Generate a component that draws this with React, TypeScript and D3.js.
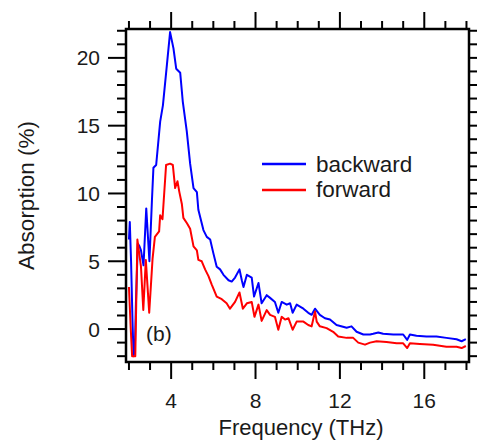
import React from "react";
import * as d3 from "d3";

const backwardFreq = [2.0, 2.04, 2.1, 2.17, 2.22, 2.28, 2.33, 2.42, 2.5, 2.57, 2.69, 2.82, 2.97, 3.09, 3.16, 3.29, 3.48, 3.61, 3.8, 3.95, 4.11, 4.24, 4.43, 4.55, 4.74, 4.9, 5.06, 5.22, 5.29, 5.53, 5.69, 5.85, 6.0, 6.16, 6.32, 6.48, 6.72, 6.87, 7.03, 7.24, 7.35, 7.43, 7.59, 7.82, 7.93, 8.14, 8.29, 8.53, 8.69, 8.92, 9.08, 9.24, 9.48, 9.64, 9.76, 9.95, 10.27, 10.5, 10.66, 10.82, 11.05, 11.29, 11.53, 11.84, 12.32, 12.55, 12.79, 13.11, 13.43, 13.58, 13.82, 14.05, 14.53, 15.0, 15.19, 15.32, 15.63, 16.1, 16.58, 17.05, 17.53, 17.77, 17.97];
const backwardAbs = [6.6, 7.9, 5.0, 0.5, -2.0, -1.5, 1.9, 6.3, 6.1, 5.8, 4.7, 8.9, 5.0, 9.5, 11.9, 12.1, 15.3, 16.5, 19.5, 21.9, 20.7, 19.2, 18.9, 16.8, 14.6, 12.2, 10.4, 10.1, 8.8, 7.3, 6.8, 6.6, 5.6, 4.6, 4.4, 4.0, 3.6, 3.5, 3.8, 4.4, 3.6, 3.1, 4.0, 3.8, 2.4, 3.4, 1.9, 2.5, 2.3, 2.0, 1.2, 2.0, 1.8, 1.9, 1.2, 1.8, 1.5, 1.2, 1.05, 1.5, 1.05, 0.8, 0.7, 0.3, 0.1, 0.2, -0.2, -0.4, -0.4, -0.35, -0.25, -0.35, -0.4, -0.4, -0.8, -0.4, -0.5, -0.55, -0.55, -0.65, -0.75, -0.9, -0.75];

const forwardFreq = [2.0, 2.08, 2.15, 2.3, 2.4, 2.57, 2.68, 2.8, 2.96, 3.12, 3.23, 3.43, 3.48, 3.59, 3.76, 3.95, 4.08, 4.19, 4.3, 4.39, 4.51, 4.58, 4.75, 4.9, 5.06, 5.22, 5.29, 5.45, 5.61, 5.77, 5.92, 6.16, 6.4, 6.63, 6.79, 7.03, 7.24, 7.4, 7.59, 7.82, 7.95, 8.14, 8.29, 8.53, 8.69, 8.92, 9.08, 9.24, 9.4, 9.56, 9.76, 9.95, 10.27, 10.5, 10.66, 10.82, 10.9, 11.05, 11.37, 11.68, 11.92, 12.32, 12.63, 12.87, 13.19, 13.43, 13.74, 14.21, 14.69, 15.0, 15.19, 15.32, 15.79, 16.42, 17.05, 17.53, 17.77, 17.97];
const forwardAbs = [3.1, 0.2, -2.0, -2.0, 6.6, 4.6, 1.4, 5.1, 1.2, 5.2, 6.8, 7.2, 8.4, 8.1, 12.1, 12.2, 12.1, 10.4, 10.9, 10.1, 9.2, 8.2, 7.8, 7.4, 6.1, 5.8, 5.1, 5.0, 4.4, 3.9, 3.3, 2.4, 2.2, 1.9, 1.5, 2.0, 2.7, 1.5, 1.9, 2.0, 0.9, 1.8, 0.6, 1.4, 1.05, 0.9, -0.05, 0.9, 0.7, 0.8, -0.05, 0.55, 0.55, 0.3, 0.2, 1.3, 0.55, 0.2, 0.07, -0.2, -0.55, -0.65, -0.65, -1.0, -1.15, -1.0, -0.9, -0.95, -1.05, -1.05, -1.4, -1.05, -1.1, -1.15, -1.3, -1.3, -1.4, -1.25];

const xMajorTicks = [4, 8, 12, 16];
const xMinorTicks = d3.range(2, 19, 1);
const yMajorTicks = [0, 5, 10, 15, 20];
const yMinorTicks = d3.range(-2, 23, 1);

const seriesNames = ["backward", "forward"];
const seriesColors = ["#0000ff", "#ff0000"];

const FONT = "'Liberation Sans', Arial, Helvetica, sans-serif";

export default function App() {
  const W = 477, H = 441;
  const left = 126, right = 469, top = 29, bottom = 362;
  const x = d3.scaleLinear().domain([1.86, 18.12]).range([left, right]);
  const y = d3.scaleLinear().domain([-2.43, 22.13]).range([bottom, top]);

  const line = d3.line<[number, number]>().x(d => x(d[0])).y(d => y(d[1]));
  const backPts = backwardFreq.map((f, i) => [f, backwardAbs[i]] as [number, number]);
  const fwdPts = forwardFreq.map((f, i) => [f, forwardAbs[i]] as [number, number]);

  const majorLen = 17, minorLen = 8;
  const tickStroke = 2;
  const txt = "#1a1a1a";

  return (
    <svg width={W} height={H} style={{ position: "absolute", left: 0, top: 0, background: "#fff" }} fontFamily={FONT}>
      <rect x={0} y={0} width={W} height={H} fill="#fff" />
      <defs>
        <clipPath id="plotclip">
          <rect x={left} y={top} width={right - left} height={bottom - top} />
        </clipPath>
      </defs>
      <g clipPath="url(#plotclip)">
        <path d={line(backPts) || ""} fill="none" stroke={seriesColors[0]} strokeWidth={2} strokeLinejoin="round" />
        <path d={line(fwdPts) || ""} fill="none" stroke={seriesColors[1]} strokeWidth={2} strokeLinejoin="round" />
      </g>

      {xMinorTicks.map(t => {
        const len = xMajorTicks.includes(t) ? majorLen : minorLen;
        return (
          <g key={"xt" + t} stroke="#000" strokeWidth={tickStroke}>
            <line x1={x(t)} x2={x(t)} y1={bottom} y2={bottom + len} />
            <line x1={x(t)} x2={x(t)} y1={top} y2={top - len} />
          </g>
        );
      })}
      {yMinorTicks.map(t => {
        const len = yMajorTicks.includes(t) ? majorLen + 1 : minorLen + 1;
        return (
          <g key={"yt" + t} stroke="#000" strokeWidth={tickStroke}>
            <line y1={y(t)} y2={y(t)} x1={left} x2={left - len} />
            <line y1={y(t)} y2={y(t)} x1={right} x2={right + len} />
          </g>
        );
      })}

      <rect x={left} y={top} width={right - left} height={bottom - top} fill="none" stroke="#000" strokeWidth={2.5} />

      {xMajorTicks.map(t => (
        <text key={"xl" + t} x={x(t)} y={408} textAnchor="middle" fontSize={21} fill={txt}>{t}</text>
      ))}
      {yMajorTicks.map(t => (
        <text key={"yl" + t} x={100} y={y(t) + 7.5} textAnchor="end" fontSize={21} fill={txt}>{t}</text>
      ))}

      <text x={301} y={435} textAnchor="middle" fontSize={22} fill={txt}>Frequency (THz)</text>
      <text transform={`translate(34, ${(top + bottom) / 2}) rotate(-90)`} textAnchor="middle" fontSize={22.5} fill={txt}>Absorption (%)</text>

      {seriesNames.map((n, i) => (
        <g key={n}>
          <line x1={262} x2={306} y1={164 + i * 26} y2={164 + i * 26} stroke={seriesColors[i]} strokeWidth={2.5} />
          <text x={316} y={171.5 + i * 25} fontSize={22.5} fill={txt}>{n}</text>
        </g>
      ))}

      <text x={146} y={341} fontSize={21} fill={txt}>(b)</text>
    </svg>
  );
}
